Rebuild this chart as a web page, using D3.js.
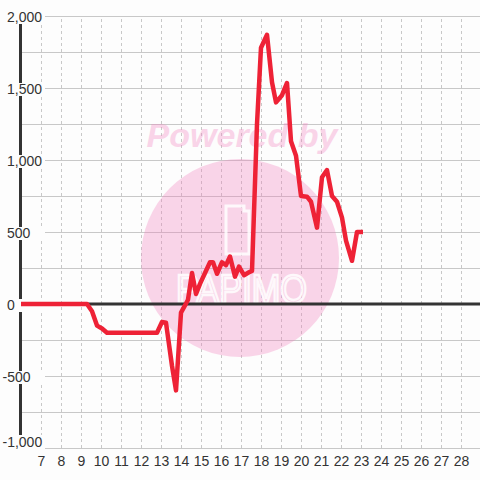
<!DOCTYPE html>
<html>
<head>
<meta charset="utf-8">
<script src="https://cdn.jsdelivr.net/npm/d3@7"></script>
<style>
    body { margin: 0; background: #fdfdfd; }
    svg { display: block; font-family: "Liberation Sans", Arial, sans-serif; }
</style>
</head>
<body>
<div id="chart"></div>
<script>
// values
var xValues = [6.0, 9.3, 9.55, 9.8, 10.05, 10.3, 12.8, 13.05, 13.25, 13.55, 13.75, 14.0, 14.2, 14.35,
               14.55, 14.75, 14.95, 15.2, 15.45, 15.6, 15.8, 16.05, 16.25, 16.45, 16.7, 16.9, 17.15,
               17.4, 17.55, 17.8, 18.0, 18.3, 18.55, 18.75, 19.05, 19.3, 19.5, 19.75, 20.0, 20.3,
               20.5, 20.8, 21.05, 21.3, 21.55, 21.8, 22.05, 22.25, 22.55, 22.8, 23.1];
var yValues = [0, 0, -50, -150, -170, -200, -200, -125, -130, -430, -600, -60, -10, 30,
               215, 70, 140, 215, 290, 290, 210, 290, 270, 330, 190, 260, 200,
               220, 230, 1250, 1780, 1870, 1540, 1400, 1450, 1535, 1130, 1030, 750, 745,
               710, 530, 880, 930, 750, 710, 600, 440, 300, 500, 500];

var xTicks = d3.range(7, 29);
var yTicks = [-1000, -500, 0, 500, 1000, 1500, 2000];
var yGrid = d3.range(-1000, 2001, 250);

window.onload = function(){
    drawChart();
};

function drawChart(){

    var width = 480,
        height = 480;

    var svg = d3.select("#chart").append("svg")
                .attr("width", width)
                .attr("height", height);

    svg.append("rect")
        .attr("width", width)
        .attr("height", height)
        .attr("fill", "#fdfdfd");

    var xScale = d3.scaleLinear()
                   .domain([6, 29])
                   .range([21, 481]);

    var yScale = d3.scaleLinear()
                   .domain([-1000, 2000])
                   .range([448, 16]);

    // horizontal grid, every 250
    var hGrid = svg.append("g")
        .attr("transform", "translate(21,0)")
        .call(d3.axisRight(yScale).tickValues(yGrid).tickSize(width - 21).tickFormat(""));
    hGrid.select(".domain").remove();
    hGrid.selectAll("line").attr("stroke", "#c8c8c8");

    // vertical dashed grid
    var vGrid = svg.append("g")
        .attr("transform", "translate(0,448)")
        .call(d3.axisTop(xScale).tickValues(xTicks).tickSize(432).tickFormat(""));
    vGrid.select(".domain").remove();
    vGrid.selectAll("line")
        .attr("stroke", "#c8c8c8")
        .attr("stroke-dasharray", "3,3");

    // watermark
    var wm = svg.append("g").attr("opacity", 0.32);
    wm.append("circle")
        .attr("cx", 240)
        .attr("cy", 258)
        .attr("r", 99)
        .attr("fill", "#f37fbd");
    wm.append("text")
        .attr("x", 242)
        .attr("y", 147)
        .attr("text-anchor", "middle")
        .attr("font-size", 34)
        .attr("font-weight", "bold")
        .attr("font-style", "italic")
        .attr("fill", "#f37fbd")
        .text("Powered by");

    var logo = svg.append("g").attr("opacity", 0.85);
    logo.append("path")
        .attr("d", "M226,206 H244 V211 H249 V254 H226 Z")
        .attr("fill", "none")
        .attr("stroke", "#fff")
        .attr("stroke-width", 3);
    logo.append("text")
        .attr("x", 176)
        .attr("y", 303)
        .attr("font-size", 40)
        .attr("textLength", 131)
        .attr("lengthAdjust", "spacingAndGlyphs")
        .attr("fill", "none")
        .attr("stroke", "#fff")
        .attr("stroke-width", 2.5)
        .text("PAPIMO");

    // left axis line and zero line
    svg.append("line")
        .attr("x1", 20.5).attr("x2", 20.5)
        .attr("y1", yScale(2000)).attr("y2", yScale(-1000))
        .attr("stroke", "#333")
        .attr("stroke-width", 3);

    svg.append("line")
        .attr("x1", 21).attr("x2", width)
        .attr("y1", yScale(0)).attr("y2", yScale(0))
        .attr("stroke", "#333")
        .attr("stroke-width", 3);

    // y labels with a background box (the bottom one is kept inside the plot)
    var yLab = svg.append("g")
        .selectAll("g")
        .data(yTicks)
        .enter()
        .append("g")
        .attr("transform", function(d){ return "translate(0," + yScale(d) + ")"; });

    yLab.append("rect")
        .attr("x", 0)
        .attr("y", function(d){ return d == -1000 ? -13 : -5; })
        .attr("width", 45)
        .attr("height", function(d){ return d == -1000 ? 16 : 13; })
        .attr("fill", "#fdfdfd");

    yLab.append("text")
        .attr("x", function(d){ return d < 0 ? 2.5 : 7; })
        .attr("y", function(d){ return d == -1000 ? -1 : 6; })
        .attr("font-size", 14)
        .attr("fill", "#333")
        .text(function(d){ return (d < 0 ? "-" : "") + d3.format(",")(Math.abs(d)); });

    // x labels
    var xAxis = svg.append("g")
        .attr("transform", "translate(0,448)")
        .call(d3.axisBottom(xScale).tickValues(xTicks).tickSize(0).tickPadding(8));
    xAxis.select(".domain").remove();
    xAxis.selectAll("text")
        .attr("font-size", 14)
        .attr("font-family", "Liberation Sans, Arial, sans-serif")
        .attr("fill", "#333");

    // the data line
    var points = xValues.map(function(d, i){ return [d, yValues[i]]; });

    var line = d3.line()
        .x(function(d){ return xScale(d[0]); })
        .y(function(d){ return yScale(d[1]); });

    svg.append("path")
        .datum(points)
        .attr("d", line)
        .attr("fill", "none")
        .attr("stroke", "#ee2236")
        .attr("stroke-width", 4.5)
        .attr("stroke-linejoin", "round");
}
</script>
</body>
</html>
